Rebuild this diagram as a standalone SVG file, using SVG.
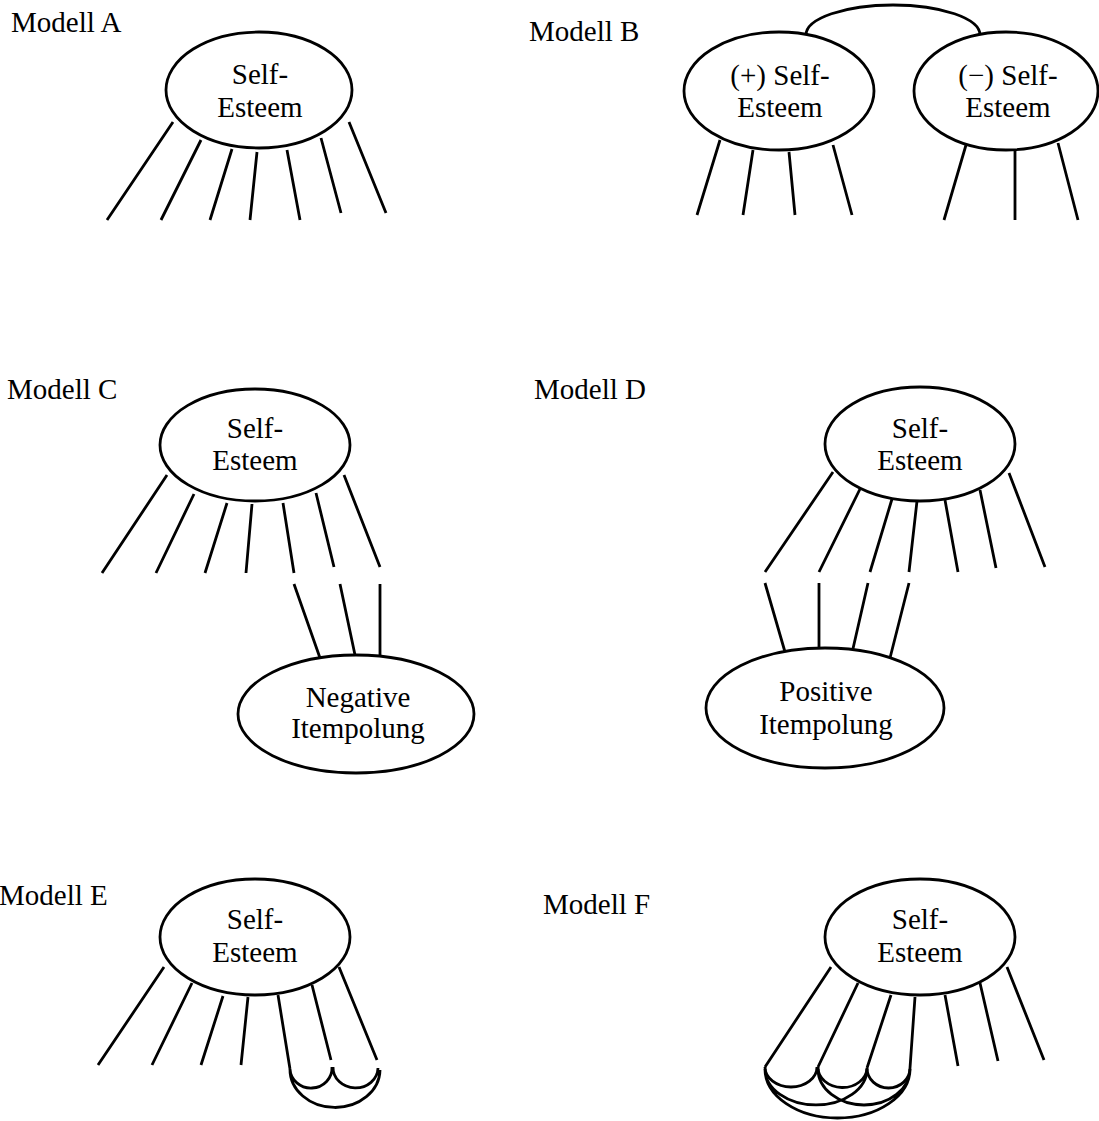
<svg xmlns="http://www.w3.org/2000/svg" width="1099" height="1121" viewBox="0 0 1099 1121">
  <style>
    .bg { fill: #ffffff; }
    .node { fill: #ffffff; stroke: #000000; stroke-width: 2.8; }
    .edge { fill: none; stroke: #000000; stroke-width: 2.8; stroke-linecap: butt; }
    .lbl { font-family: "Liberation Serif", "Times New Roman", serif; font-size: 29px; fill: #000000; }
    .ctr { text-anchor: middle; }
  </style>
  <rect class="bg" x="0" y="0" width="1099" height="1121"/>

  <!-- panel titles -->
  <g id="titles">
    <text class="lbl" x="11" y="32">Modell A</text>
    <text class="lbl" x="529" y="41">Modell B</text>
    <text class="lbl" x="7" y="399">Modell C</text>
    <text class="lbl" x="534" y="399">Modell D</text>
    <text class="lbl" x="-1" y="905">Modell E</text>
    <text class="lbl" x="543" y="914">Modell F</text>
  </g>

  <!-- indicator lines, method links and correlation arcs -->
  <g id="connectors">
    <!-- Modell A -->
    <path class="edge" d="M173,122 L107,220 M201,140 L161,220 M232,149 L210,220 M257,152 L250,220 M287,150 L300,220 M321,138 L341,213 M349,122 L386,213"/>
    <!-- Modell B -->
    <path class="edge" d="M806,35 A87,30 0 0 1 980,35"/>
    <path class="edge" d="M720,140 L697,215 M753,150 L743,215 M789,152 L795,215 M833,145 L852,215"/>
    <path class="edge" d="M966,145 L944,220 M1015,150 L1015,220 M1058,143 L1078,220"/>
    <!-- Modell C -->
    <path class="edge" d="M167,475 L102,573 M194,494 L156,573 M227,503 L205,573 M252,504 L246,573 M283,503 L294,573 M316,493 L334,567 M344,475 L380,567"/>
    <path class="edge" d="M294,584 L320,658 M340,584 L355,655 M380,584 L380,655"/>
    <!-- Modell D -->
    <path class="edge" d="M833,472 L765,572 M860,489 L819,572 M892,499 L870,572 M917,501 L909,572 M945,500 L958,572 M980,490 L996,568 M1009,473 L1045,567"/>
    <path class="edge" d="M765,583 L785,652 M819,583 L819,649 M868,583 L852,653 M909,583 L890,658"/>
    <!-- Modell E -->
    <path class="edge" d="M164,967 L98,1065 M192,983 L152,1065 M223,996 L201,1065 M248,997 L241,1065 M278,995 L290,1069 M312,985 L331,1060 M339,967 L377,1060"/>
    <path class="edge" d="M290,1069 A21,20 0 0 0 332,1067 M333,1067 A22,20 0 0 0 378,1068 M290,1069 A45,38 0 0 0 380,1070"/>
    <!-- Modell F -->
    <path class="edge" d="M831,967 L765,1067 M858,983 L818,1067 M891,995 L867,1068 M915,997 L910,1068 M945,995 L958,1066 M980,983 L998,1061 M1007,967 L1044,1060"/>
    <path class="edge" d="M765,1067 A26,20 0 0 0 817,1067 M818,1067 A24.5,20 0 0 0 867,1068 M867,1068 A21.5,20 0 0 0 910,1068"/>
    <path class="edge" d="M765,1069 A51,36 0 0 0 867,1069 M818,1069 A46,36 0 0 0 910,1069 M765,1069 A72.5,49 0 0 0 910,1069"/>
  </g>

  <!-- Modell A -->
  <g id="a-self-esteem">
    <ellipse class="node" cx="259" cy="90" rx="93" ry="58"/>
    <text class="lbl ctr" x="260" y="84">Self-</text>
    <text class="lbl ctr" x="260" y="117">Esteem</text>
  </g>

  <!-- Modell B -->
  <g id="b-pos-self-esteem">
    <ellipse class="node" cx="779" cy="91" rx="95" ry="59"/>
    <text class="lbl ctr" x="780" y="85">(+) Self-</text>
    <text class="lbl ctr" x="780" y="117">Esteem</text>
  </g>
  <g id="b-neg-self-esteem">
    <ellipse class="node" cx="1006" cy="91" rx="92" ry="59"/>
    <text class="lbl ctr" x="1008" y="85">(−) Self-</text>
    <text class="lbl ctr" x="1008" y="117">Esteem</text>
  </g>

  <!-- Modell C -->
  <g id="c-self-esteem">
    <ellipse class="node" cx="255" cy="445" rx="95" ry="56"/>
    <text class="lbl ctr" x="255" y="438">Self-</text>
    <text class="lbl ctr" x="255" y="470">Esteem</text>
  </g>
  <g id="c-negative-itempolung">
    <ellipse class="node" cx="356" cy="714" rx="118" ry="59"/>
    <text class="lbl ctr" x="358" y="707">Negative</text>
    <text class="lbl ctr" x="358" y="738">Itempolung</text>
  </g>

  <!-- Modell D -->
  <g id="d-self-esteem">
    <ellipse class="node" cx="920" cy="444" rx="95" ry="57"/>
    <text class="lbl ctr" x="920" y="438">Self-</text>
    <text class="lbl ctr" x="920" y="470">Esteem</text>
  </g>
  <g id="d-positive-itempolung">
    <ellipse class="node" cx="825" cy="708" rx="119" ry="60"/>
    <text class="lbl ctr" x="826" y="701">Positive</text>
    <text class="lbl ctr" x="826" y="734">Itempolung</text>
  </g>

  <!-- Modell E -->
  <g id="e-self-esteem">
    <ellipse class="node" cx="255" cy="937" rx="95" ry="58"/>
    <text class="lbl ctr" x="255" y="929">Self-</text>
    <text class="lbl ctr" x="255" y="962">Esteem</text>
  </g>

  <!-- Modell F -->
  <g id="f-self-esteem">
    <ellipse class="node" cx="920" cy="937" rx="95" ry="58"/>
    <text class="lbl ctr" x="920" y="929">Self-</text>
    <text class="lbl ctr" x="920" y="962">Esteem</text>
  </g>
</svg>
